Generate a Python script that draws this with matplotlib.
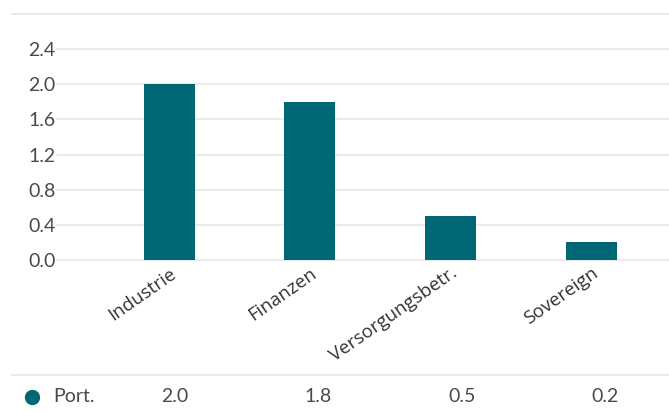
import matplotlib
matplotlib.use("Agg")
import matplotlib.pyplot as plt
import matplotlib.transforms as mtransforms
from matplotlib.lines import Line2D

categories = ["Industrie", "Finanzen", "Versorgungsbetr.", "Sovereign"]
values = [2.0, 1.8, 0.5, 0.2]
yticks = [0.0, 0.4, 0.8, 1.2, 1.6, 2.0, 2.4]
series_name = "Port."

bar_color = "#006874"
grid_color = "#e6e6e6"
text_color = "#4a4a4a"

plt.rcParams['font.family'] = ['Lato', 'DejaVu Sans']

W, H = 669, 412
fig = plt.figure(figsize=(W / 100, H / 100), dpi=100)

# axes in pixel coords: left 57, right 669, bottom y=260, top y=49
ax = fig.add_axes([57 / W, (H - 260) / H, (W - 57) / W, (260 - 49) / H])
x = list(range(len(categories)))
ax.bar(x, values, width=0.363, color=bar_color, zorder=3)
ax.set_xlim(-0.8, 3.555)
ax.set_ylim(0, 2.4)
ax.set_yticks(yticks)
ax.set_yticklabels([f"{v:.1f}" for v in yticks], fontsize=14, color=text_color)
ax.grid(axis='y', color=grid_color, lw=1.2, zorder=0)
for gl in ax.get_ygridlines():
    gl.set_clip_on(False)
for s in ax.spines.values():
    s.set_visible(False)
ax.tick_params(axis='y', length=0, pad=1)
ax.tick_params(axis='x', length=0, pad=3)
ax.set_xticks(x)
ax.set_xticklabels(categories, rotation=35, ha='right', rotation_mode='anchor',
                   fontsize=13.5, color="#333333", family=['Open Sans', 'DejaVu Sans'])
offset = mtransforms.ScaledTranslation(0.0, 0, fig.dpi_scale_trans)
for lbl in ax.get_xticklabels():
    lbl.set_transform(lbl.get_transform() + offset)

# top and table separator lines
fig.add_artist(Line2D([12 / W, 1], [(H - 14) / H] * 2, color=grid_color, lw=1.2))
fig.add_artist(Line2D([12 / W, 1], [(H - 375) / H] * 2, color=grid_color, lw=1.2))

# data table row
row_y = (H - 397) / H
fig.add_artist(Line2D([32 / W], [row_y], marker='o', markersize=10,
                      color=bar_color, linestyle='none'))
fig.text(53 / W, row_y, series_name, fontsize=14, color=text_color,
         ha='left', va='center')
for i, v in enumerate(values):
    fig.text((175 + i * 143.3) / W, row_y, f"{v:.1f}", fontsize=14,
             color=text_color, ha='center', va='center')

fig.savefig("out.png", dpi=100)
